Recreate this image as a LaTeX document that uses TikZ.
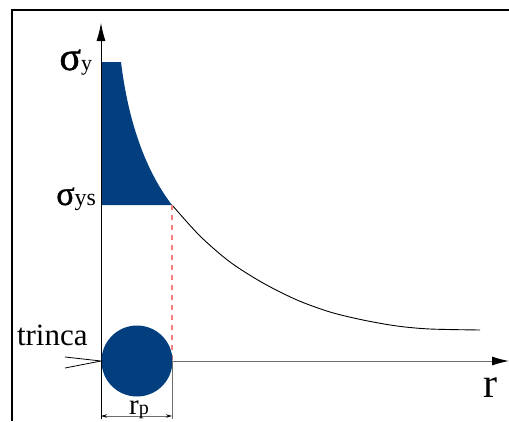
\documentclass[tikz,border=0pt]{standalone}
\usepackage{fontspec}
\setmainfont{Liberation Serif}
\usetikzlibrary{arrows.meta}
\definecolor{fillblue}{RGB}{3,63,127}
\definecolor{dashred}{RGB}{245,125,125}
\definecolor{axisgray}{RGB}{110,110,110}
\begin{document}
\begin{tikzpicture}[x=1pt,y=-1pt,
  frameline/.style={line width=2.5pt,line join=miter},
  axisline/.style={line width=0.9pt},
  curveline/.style={line width=0.9pt},
  guide/.style={dashred,line width=1.4pt,dash pattern=on 5pt off 5pt},
  dimline/.style={axisgray,line width=0.8pt},
  lbl/.style={inner sep=0pt,outer sep=0pt}]
\useasboundingbox (0,0) rectangle (509,421);
% frame
\draw[frameline] (12,421) -- (12,10) -- (509,10);
% key points
\coordinate (O) at (101,361);
\coordinate (Ytop) at (101,23);
\coordinate (Rend) at (509,361);
\coordinate (P) at (172,205);
\coordinate (Pax) at (172,361);
\coordinate (Ctr) at (137,361);
% shaded plastic region
\fill[fillblue] (101,62) -- (121,62) .. controls (128,120) and (145,170) .. (P) -- (101,205) -- cycle;
% elastic stress curve
\draw[curveline] plot[smooth] coordinates {(172,205) (200,236) (230,262) (263,283) (297,300) (330,312) (363,320) (397,326) (430,329) (480,330)};
% dashed guide
\draw[guide] (P) -- (Pax);
% axes
\draw[axisgray,line width=1pt,-{Latex[length=17pt,width=9pt,color=black]}] (O) -- (Rend);
\draw[axisline,-{Latex[length=18pt,width=9pt]}] (O) -- (Ytop);
% plastic zone circle
\fill[fillblue] (Ctr) circle[radius=35.5pt];
% crack
\coordinate (Ca) at (65,357);
\coordinate (Cb) at (65,368);
\draw[line width=0.8pt] (Ca) -- (O) -- (Cb);
% dimension r_p
\coordinate (D1) at (101,416);
\coordinate (D2) at (172,416);
\draw[line width=0.8pt] (O) -- (101,419);
\draw[dimline] (Pax) -- (172,419);
\draw[dimline,{Stealth[length=6pt,width=3.5pt,color=black]}-{Stealth[length=6pt,width=3.5pt,color=black]}] (D1) -- (D2);
% labels
\node[lbl,anchor=base east] (sy) at (92,70) {{\fontsize{40}{40}\selectfont\addfontfeature{FakeBold=1.2}σ}{\fontsize{22}{22}\selectfont y}};
\node[lbl,anchor=base east] (sys) at (96,205) {{\fontsize{34}{34}\selectfont\addfontfeature{FakeBold=1.2}σ}{\fontsize{24}{24}\selectfont ys}};
\node[lbl,anchor=base west] (tr) at (17,345) {\fontsize{31}{31}\selectfont trinca};
\node[lbl,anchor=base] (rl) at (490,397) {\fontsize{42}{42}\selectfont r};
\node[lbl,anchor=base] (rp) at (139,414) {{\fontsize{29}{29}\selectfont r}{\fontsize{20}{20}\selectfont p}};
\end{tikzpicture}
\end{document}
